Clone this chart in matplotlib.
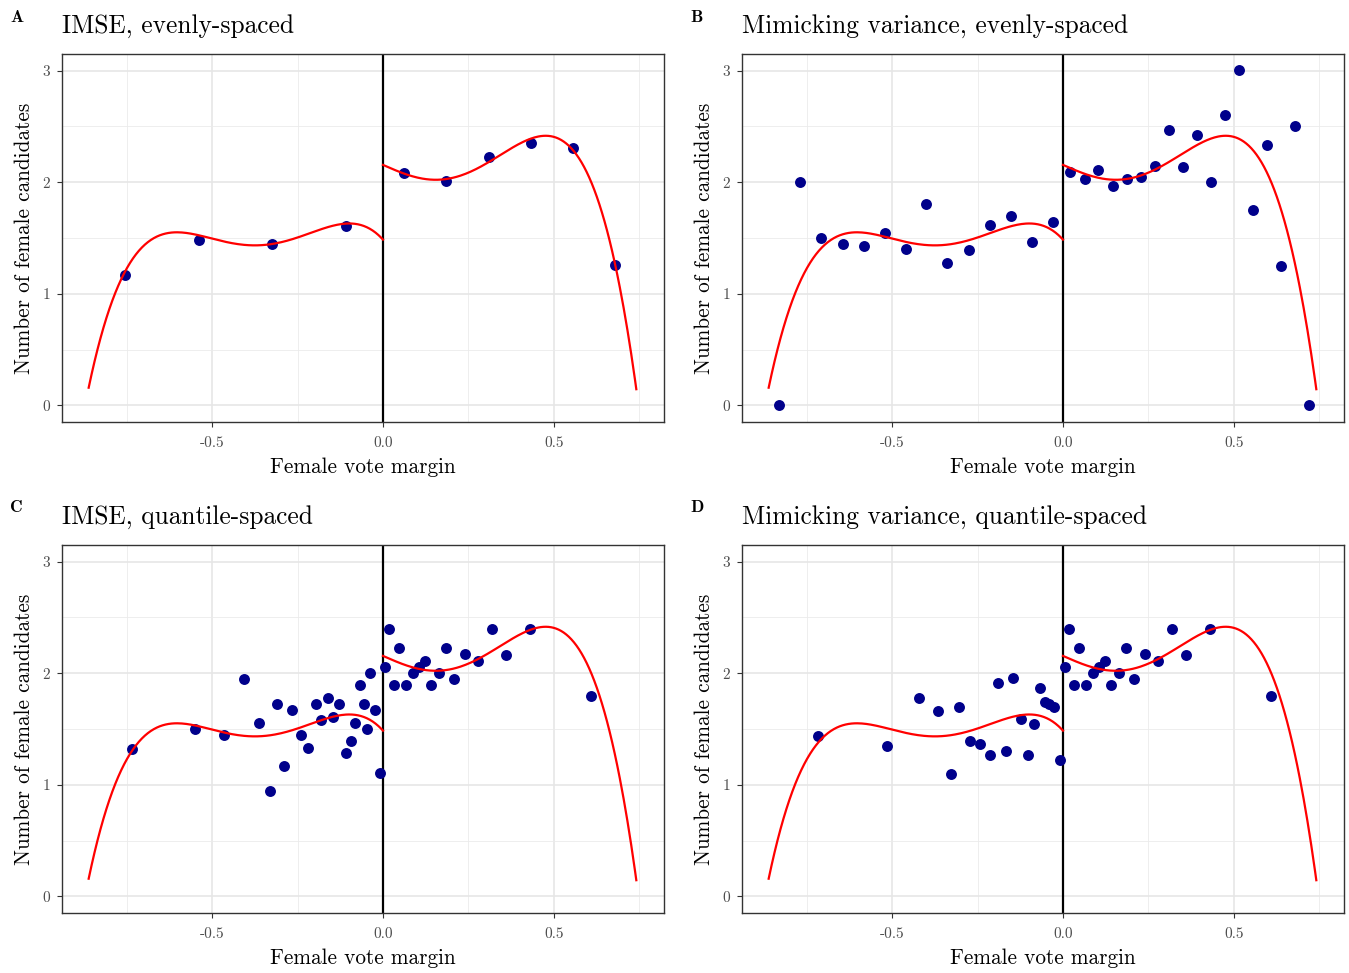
import matplotlib
matplotlib.use("Agg")
import matplotlib.pyplot as plt
import numpy as np

plt.rcParams["font.family"] = ["cmr10", "DejaVu Serif"]
plt.rcParams["axes.unicode_minus"] = False

# binned means
a_left_x = [-0.754, -0.539, -0.324, -0.109]
a_left_y = [1.170, 1.478, 1.448, 1.609]
a_right_x = [0.062, 0.185, 0.309, 0.432, 0.556, 0.678]
a_right_y = [2.084, 2.015, 2.227, 2.349, 2.304, 1.254]

b_left_x = [-0.831, -0.769, -0.707, -0.645, -0.583, -0.522, -0.460, -0.400,
            -0.338, -0.276, -0.214, -0.153, -0.092, -0.030]
b_left_y = [0.000, 2.003, 1.501, 1.445, 1.430, 1.549, 1.400, 1.809,
            1.275, 1.388, 1.621, 1.701, 1.460, 1.639]
b_right_x = [0.021, 0.063, 0.103, 0.145, 0.186, 0.227, 0.268, 0.310, 0.350,
             0.392, 0.432, 0.474, 0.515, 0.556, 0.597, 0.639, 0.679, 0.721]
b_right_y = [2.093, 2.027, 2.113, 1.970, 2.030, 2.048, 2.143, 2.472, 2.140,
             2.421, 2.003, 2.606, 3.006, 1.755, 2.337, 1.251, 2.504, 0.000]

c_left_x = [-0.733, -0.551, -0.464, -0.406, -0.364, -0.331, -0.309, -0.290,
            -0.265, -0.240, -0.218, -0.196, -0.180, -0.162, -0.145, -0.129,
            -0.109, -0.095, -0.082, -0.066, -0.055, -0.047, -0.037, -0.022,
            -0.009]
c_left_y = [1.322, 1.504, 1.445, 1.949, 1.558, 0.946, 1.725, 1.170,
            1.672, 1.445, 1.334, 1.725, 1.585, 1.779, 1.612, 1.725,
            1.281, 1.391, 1.558, 1.893, 1.725, 1.504, 2.006, 1.672,
            1.107]

d_left_x = [-0.716, -0.514, -0.422, -0.365, -0.328, -0.303, -0.273, -0.242,
            -0.214, -0.190, -0.166, -0.147, -0.123, -0.101, -0.084, -0.068,
            -0.054, -0.042, -0.027, -0.009]
d_left_y = [1.439, 1.349, 1.776, 1.657, 1.093, 1.699, 1.394, 1.367,
            1.263, 1.913, 1.304, 1.961, 1.591, 1.263, 1.546, 1.872,
            1.746, 1.728, 1.696, 1.218]

# quantile-spaced right side is the same in C and D
q_right_x = [0.007, 0.019, 0.031, 0.048, 0.068, 0.088, 0.104, 0.122, 0.141,
             0.163, 0.184, 0.208, 0.239, 0.279, 0.319, 0.360, 0.431, 0.608]
q_right_y = [2.060, 2.394, 1.899, 2.227, 1.899, 2.003, 2.060, 2.113, 1.893,
             2.006, 2.227, 1.949, 2.173, 2.107, 2.394, 2.164, 2.394, 1.794]

# global polynomial fit (same in every panel), read at points along the curve
fit_left_x = [-0.861, -0.827, -0.793, -0.754, -0.715, -0.659, -0.603, -0.535,
              -0.468, -0.373, -0.266, -0.176, -0.098, -0.042, -0.002]
fit_left_y = [0.158, 0.582, 0.940, 1.209, 1.388, 1.513, 1.543, 1.513,
              1.472, 1.445, 1.493, 1.576, 1.627, 1.591, 1.493]
fit_right_x = [0.003, 0.071, 0.138, 0.205, 0.295, 0.385, 0.464, 0.520,
               0.576, 0.632, 0.678, 0.710, 0.741]
fit_right_y = [2.158, 2.060, 2.015, 2.039, 2.179, 2.328, 2.405, 2.350,
               2.194, 1.860, 1.269, 0.761, 0.140]

tags = ["A", "B", "C", "D"]
titles = ["IMSE, evenly-spaced", "Mimicking variance, evenly-spaced",
          "IMSE, quantile-spaced", "Mimicking variance, quantile-spaced"]
xticks = [-0.5, 0.0, 0.5]
xticklabels = ["-0.5", "0.0", "0.5"]
yticks = [0, 1, 2, 3]

panels = [
    (a_left_x + a_right_x, a_left_y + a_right_y),
    (b_left_x + b_right_x, b_left_y + b_right_y),
    (c_left_x + q_right_x, c_left_y + q_right_y),
    (d_left_x + q_right_x, d_left_y + q_right_y),
]

W, H = 1349, 973
fig = plt.figure(figsize=(W / 100, H / 100), dpi=100)

# axes boxes in pixels: left, top
boxes = [(62, 54), (742, 54), (62, 545), (742, 545)]
aw, ah = 602, 368

# smooth curves from the read points
pl = np.polyfit(fit_left_x, fit_left_y, 4)
pr = np.polyfit(fit_right_x, fit_right_y, 4)
xl = np.linspace(fit_left_x[0], 0, 200)
xr = np.linspace(0, fit_right_x[-1], 200)

for i, ((px, py), (bx, by)) in enumerate(zip(panels, boxes)):
    ax = fig.add_axes([bx / W, 1 - (by + ah) / H, aw / W, ah / H])
    ax.set_xlim(-0.939, 0.822)
    ax.set_ylim(-0.15, 3.15)
    ax.set_xticks(xticks)
    ax.set_xticklabels(xticklabels)
    ax.set_yticks(yticks)
    ax.set_xticks([-0.75, -0.25, 0.25, 0.75], minor=True)
    ax.set_yticks([0.5, 1.5, 2.5], minor=True)
    ax.grid(which="major", color="#e6e6e6", lw=1.2)
    ax.grid(which="minor", color="#ebebeb", lw=0.6)
    ax.tick_params(which="minor", length=0)
    ax.tick_params(which="major", length=3.5, width=0.8, color="#333333",
                   labelcolor="#4d4d4d", labelsize=11, pad=7)
    ax.tick_params(axis="y", pad=5)
    for s in ax.spines.values():
        s.set_color("#333333")
        s.set_linewidth(1.0)
    ax.set_axisbelow(True)

    ax.axvline(0, color="black", lw=1.6, zorder=2)
    ax.scatter(px, py, s=62, color="#00008b", zorder=3, linewidths=0)
    ax.plot(xl, np.polyval(pl, xl), color="red", lw=1.6, zorder=4)
    ax.plot(xr, np.polyval(pr, xr), color="red", lw=1.6, zorder=4)

    ax.set_xlabel("Female vote margin", fontsize=15.3, labelpad=5)
    ax.set_ylabel("Number of female candidates", fontsize=15.3, labelpad=6)
    ax.set_title(titles[i], loc="left", fontsize=18.3, pad=15.5)

    fig.text((bx - 52) / W, 1 - (by - 37) / H, tags[i], family="cmb10",
             fontsize=12.5, ha="left", va="center")

fig.savefig("out.png", dpi=100)
